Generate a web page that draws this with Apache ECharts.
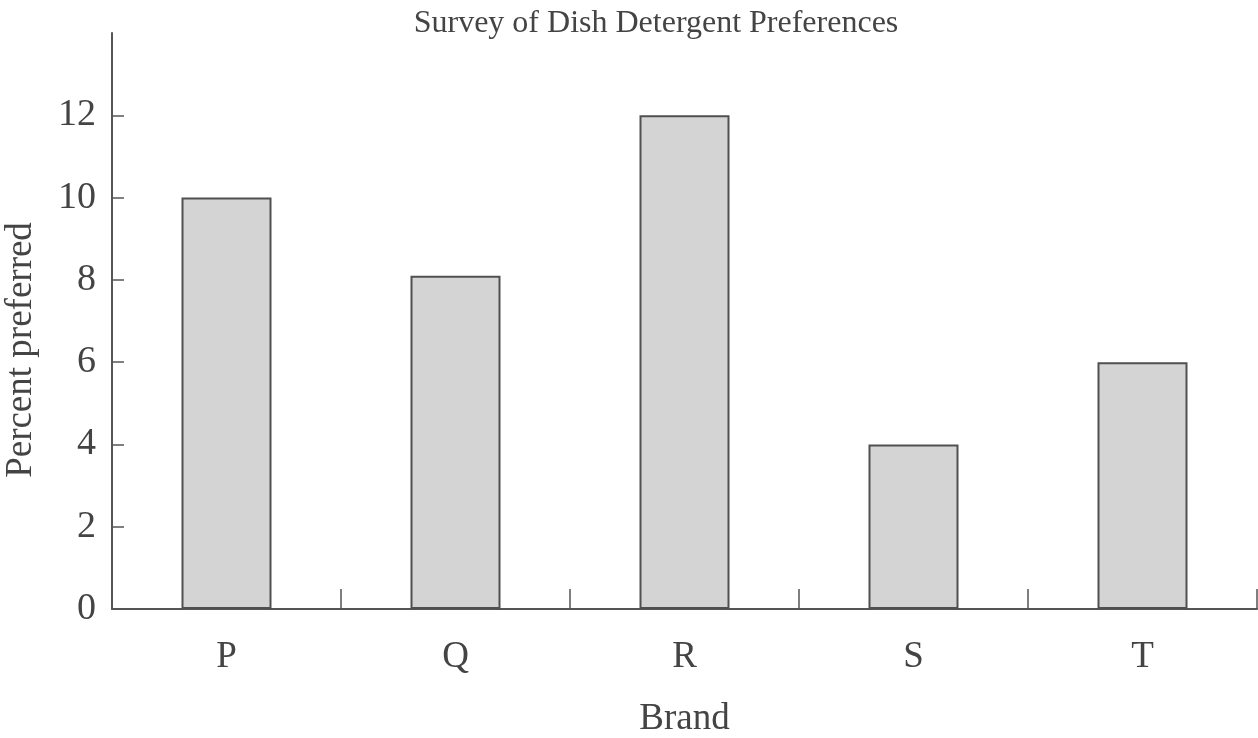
<!DOCTYPE html>
<html>
<head>
<meta charset="utf-8">
<script src="https://cdn.jsdelivr.net/npm/echarts@6/dist/echarts.min.js"></script>
<style>
  html, body { margin: 0; padding: 0; background: #fff; }
  #chart { width: 1258px; height: 738px; }
</style>
</head>
<body>
<div id="chart"></div>
<script>
const brands = ["P", "Q", "R", "S", "T"];
const percentPreferred = [10, 8.1, 12, 4, 6];
const yTicks = [0, 2, 4, 6, 8, 10, 12];

const font = "Liberation Serif";
const ink = "#444444";
const axisInk = "#555555";

const chart = echarts.init(document.getElementById("chart"));
chart.setOption({
  animation: false,
  title: {
    text: "Survey of Dish Detergent Preferences",
    left: 651,
    textAlign: "center",
    top: 3,
    textStyle: { fontFamily: font, fontSize: 32, fontWeight: "normal", color: ink }
  },
  grid: { left: 112, right: 1, top: 33, bottom: 129, outerBoundsMode: "none", containLabel: false },
  xAxis: {
    type: "category",
    data: brands,
    name: "Brand",
    nameLocation: "middle",
    nameGap: 92,
    nameTextStyle: { fontFamily: font, fontSize: 37, color: ink },
    axisLine: { lineStyle: { color: axisInk, width: 2 } },
    axisTick: { show: true, inside: true, length: 20, alignWithLabel: false, interval: 0, lineStyle: { color: axisInk, width: 1.5 } },
    axisLabel: { fontFamily: font, fontSize: 37, color: ink, margin: 30 }
  },
  yAxis: {
    type: "value",
    min: 0,
    max: 14,
    interval: 2,
    name: "Percent preferred",
    nameLocation: "middle",
    nameGap: 72,
    nameTextStyle: { fontFamily: font, fontSize: 37, color: ink, padding: [0, 58, 0, 0] },
    splitLine: { show: false },
    axisLine: { show: true, lineStyle: { color: axisInk, width: 2 } },
    axisTick: { show: true, inside: true, length: 12, customValues: yTicks, lineStyle: { color: axisInk, width: 1.5 } },
    axisLabel: { fontFamily: font, fontSize: 38, color: ink, margin: 16, customValues: yTicks }
  },
  series: [{
    type: "bar",
    data: percentPreferred,
    barWidth: 90,
    itemStyle: { color: "#d4d4d4", borderColor: "#505050", borderWidth: 2 }
  }]
});
</script>
</body>
</html>
